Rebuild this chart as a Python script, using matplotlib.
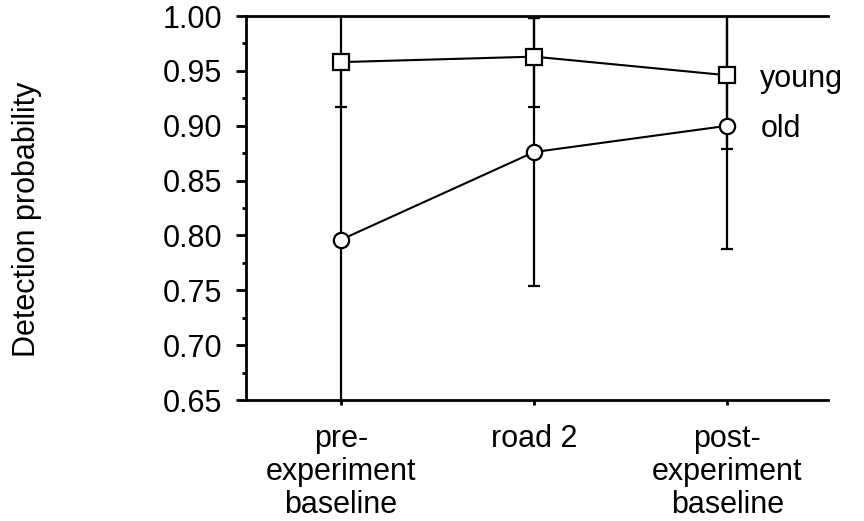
import numpy as np
import matplotlib.pyplot as plt
from matplotlib.ticker import MultipleLocator

plt.rcParams['font.family'] = ['Liberation Sans', 'DejaVu Sans']

# data
categories = ["pre-\nexperiment\nbaseline", "road 2", "post-\nexperiment\nbaseline"]
young = [0.958, 0.963, 0.946]
young_lo = [0.041, 0.046, 0.067]   # lower error
young_hi = [0.046, 0.035, 0.067]   # upper error
old = [0.796, 0.876, 0.900]
old_lo = [0.160, 0.122, 0.112]
old_hi = [0.160, 0.122, 0.112]
series_names = ["young", "old"]

x = np.arange(len(categories))

fig = plt.figure(figsize=(8.64, 5.21), dpi=100)
ax = fig.add_axes([0.2847, 0.2322, 0.6736, 0.737])

# error bars first, markers on top
for vals, lo, hi in [(young, young_lo, young_hi), (old, old_lo, old_hi)]:
    ax.errorbar(x, vals, yerr=[lo, hi], fmt='none', ecolor='black',
                elinewidth=1.6, capsize=4, capthick=1.6, zorder=2)

ax.plot(x, young, color='black', lw=1.5, marker='s', markersize=11,
        markerfacecolor='white', markeredgecolor='black', markeredgewidth=1.6, zorder=3)
ax.plot(x, old, color='black', lw=1.5, marker='o', markersize=11,
        markerfacecolor='white', markeredgecolor='black', markeredgewidth=1.6, zorder=3)

# labels next to last points
ax.text(x[-1] + 0.17, young[-1], series_names[0], fontsize=22, va='center_baseline', ha='left')
ax.text(x[-1] + 0.17, old[-1], series_names[1], fontsize=22, va='center_baseline', ha='left')

ax.set_xlim(-0.49, 2.52)
ax.set_ylim(0.65, 1.00)
ax.set_xticks(x)
ax.set_xticklabels(categories, fontsize=22, linespacing=1.12)
ax.yaxis.set_major_locator(MultipleLocator(0.05))
ax.yaxis.set_minor_locator(MultipleLocator(0.025))
ax.yaxis.set_major_formatter(plt.FormatStrFormatter('%.2f'))
ax.tick_params(axis='y', which='major', length=7, width=2, labelsize=22, pad=10)
ax.tick_params(axis='y', which='minor', length=3, width=2)
ax.tick_params(axis='x', which='major', length=3.5, width=2, pad=14)

ax.set_ylabel("Detection probability", fontsize=22)
ax.yaxis.set_label_coords(-0.35, 0.47)

ax.spines['right'].set_visible(False)
for s in ['left', 'bottom', 'top']:
    ax.spines[s].set_linewidth(2)

fig.savefig("out.png", dpi=100)
